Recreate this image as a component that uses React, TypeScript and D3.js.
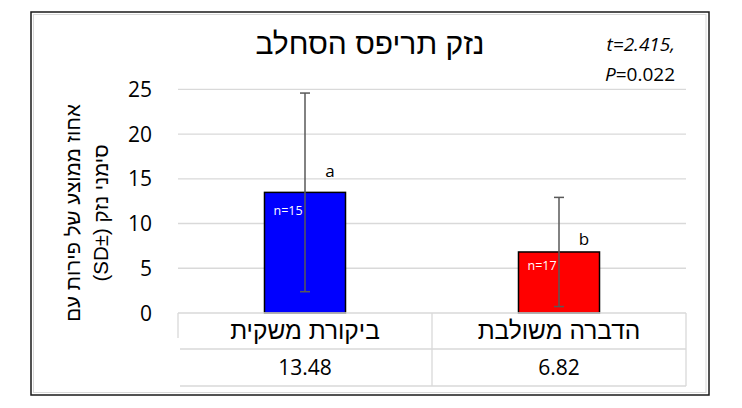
import React from 'react'
import * as d3 from 'd3'

const categories = ['ביקורת משקית', 'הדברה משולבת']
const means = [13.48, 6.82]
const sds = [11.1, 6.1]
const nLabels = ['n=15', 'n=17']
const letters = ['a', 'b']
const barColors = ['#0000ff', '#ff0000']
const yTicks = [0, 5, 10, 15, 20, 25]

const title = 'נזק תריפס הסחלב'
const yTitle = ['אחוז ממוצע של פירות עם', 'סימני נזק (±SD)']

const W = 742
const H = 408
const font = '"Open Sans", "DejaVu Sans", sans-serif'
const hebFont = '"Liberation Sans", "DejaVu Sans", sans-serif'

// offsets in px for the letter / n labels, as placed in the original
const letterDy = [-15, -7]
const nDy = [23, 18]

export default function App() {
    const x = d3.scaleBand<string>()
        .domain(categories)
        .range([178, 686])
        .paddingInner(0.681)
        .paddingOuter(0.3405)

    const y = d3.scaleLinear()
        .domain([0, 25])
        .range([313, 89.3])

    const step = x.step()
    const bw = x.bandwidth()
    const tableTop = y(0)
    const row1 = tableTop + 36
    const row2 = row1 + 37

    return (
        <div style={{ position: 'absolute', left: 0, top: 0 }}>
            <svg width={W} height={H} viewBox={`0 0 ${W} ${H}`} style={{ display: 'block', fontFamily: font }}>
                <rect x={0} y={0} width={W} height={H} fill="white" />
                <rect x={33.5} y={14.5} width={672.5} height={378} fill="white" stroke="#d9d9d9" strokeWidth={1} />
                <rect x={31} y={12} width={678} height={383} fill="none" stroke="#1a1a1a" strokeWidth={1.5} />

                {/* title and stats */}
                <text x={370} y={54} textAnchor="middle" direction="rtl" fontFamily={hebFont} fontSize={30} fill="#000">{title}</text>
                <text x={675} y={51} textAnchor="end" fontSize={19} fontStyle="italic" fill="#000">t=2.415,</text>
                <text x={675} y={81} textAnchor="end" fontSize={19} fill="#000">
                    <tspan fontStyle="italic">P</tspan>=0.022
                </text>

                {/* gridlines */}
                {yTicks.filter(t => t > 0).map(t => (
                    <line key={t} x1={178} x2={686} y1={y(t)} y2={y(t)} stroke="#d9d9d9" strokeWidth={1.3} />
                ))}
                {yTicks.map(t => (
                    <text key={t} x={152} y={y(t)} dy="0.36em" textAnchor="end" fontSize={21} fill="#000">{t}</text>
                ))}

                {/* y axis title */}
                <g transform="translate(73, 213) rotate(-90)" fontFamily={hebFont}>
                    <text x={0} y={0} dy="0.35em" textAnchor="middle" direction="rtl" fontSize={20.5} fill="#000">{yTitle[0]}</text>
                    <text x={0} y={28} dy="0.35em" textAnchor="middle" direction="rtl" fontSize={20.5} fill="#000">{yTitle[1]}</text>
                </g>

                {/* bars */}
                {categories.map((c, i) => {
                    const bx = x(c) as number
                    const cx = bx + bw / 2
                    const top = y(means[i])
                    return (
                        <g key={c}>
                            <rect x={bx} y={top} width={bw} height={y(0) - top} fill={barColors[i]} stroke="#000" strokeWidth={1.5} />
                            <text x={bx + 9} y={top + nDy[i]} fontSize={12.5} fill="#fff">{nLabels[i]}</text>
                            <line x1={cx} x2={cx} y1={y(means[i] + sds[i])} y2={y(means[i] - sds[i])} stroke="#595959" strokeWidth={1.5} />
                            <line x1={cx - 5} x2={cx + 5} y1={y(means[i] + sds[i])} y2={y(means[i] + sds[i])} stroke="#595959" strokeWidth={1.5} />
                            <line x1={cx - 5} x2={cx + 5} y1={y(means[i] - sds[i])} y2={y(means[i] - sds[i])} stroke="#595959" strokeWidth={1.5} />
                            <text x={cx + 25} y={top + letterDy[i]} textAnchor="middle" fontSize={17} fill="#000">{letters[i]}</text>
                        </g>
                    )
                })}

                {/* data table */}
                <g stroke="#d9d9d9" strokeWidth={1.3} fill="none">
                    <line x1={178} x2={686} y1={tableTop} y2={tableTop} />
                    <line x1={180} x2={686} y1={row1} y2={row1} />
                    <line x1={180} x2={686} y1={row2} y2={row2} />
                    <line x1={178} x2={178} y1={tableTop} y2={tableTop + 25} />
                    <line x1={178 + step} x2={178 + step} y1={tableTop} y2={row2} />
                    <line x1={686} x2={686} y1={tableTop} y2={row2} />
                </g>
                {categories.map((c, i) => {
                    const cx = (x(c) as number) + bw / 2
                    return (
                        <g key={c}>
                            <text x={cx} y={339} textAnchor="middle" direction="rtl" fontFamily={hebFont} fontSize={24.5} fill="#000">{c}</text>
                            <text x={cx} y={375} textAnchor="middle" fontSize={21} fill="#000">{d3.format('.2f')(means[i])}</text>
                        </g>
                    )
                })}
            </svg>
        </div>
    )
}
